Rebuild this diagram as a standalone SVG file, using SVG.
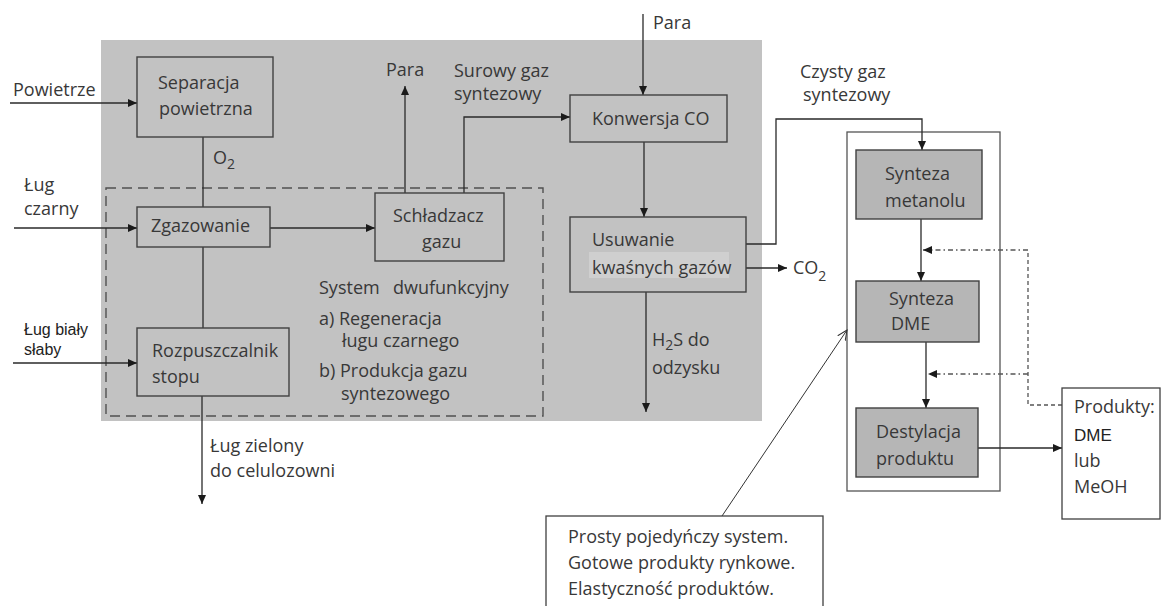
<svg xmlns="http://www.w3.org/2000/svg" width="1161" height="606" viewBox="0 0 1161 606">
<defs>
<marker id="arr" markerUnits="userSpaceOnUse" markerWidth="10" markerHeight="9" refX="9" refY="4.5" orient="auto">
<path d="M0,0.5 L9,4.5 L0,8.5 z" fill="#1a1a1a"/>
</marker>
<marker id="open" markerUnits="userSpaceOnUse" markerWidth="12" markerHeight="12" refX="10" refY="6" orient="auto">
<path d="M0,1.5 L10,6 L0,10.5" fill="none" stroke="#333" stroke-width="1"/>
</marker>
<style>
text{font-family:"Open Sans","DejaVu Sans",sans-serif;font-size:18px;fill:#383838}
.ar{font-family:"Liberation Sans",Arial,sans-serif;font-size:16px;fill:#222}
.box{fill:#c2c2c2;stroke:#404040;stroke-width:1.4}
.rbox{fill:#b6b6b6;stroke:#404040;stroke-width:1.4}
.wbox{fill:#ffffff;stroke:#404040;stroke-width:1.3}
.ln{fill:none;stroke:#2a2a2a;stroke-width:1.3}
.a{marker-end:url(#arr)}
.dd{fill:none;stroke:#555;stroke-width:1.3;stroke-dasharray:5 3 1.5 3}
.ds{fill:none;stroke:#555;stroke-width:1.3;stroke-dasharray:4 3}
.sub{font-size:14px}
</style>
</defs>
<rect id="background" x="101" y="40" width="661" height="381" fill="#c2c2c2"/>
<rect id="dual-system" x="106" y="188" width="437" height="228" fill="none" stroke="#505050" stroke-width="1.4" stroke-dasharray="10 6"/>
<rect id="outer-synthesis" x="847" y="132" width="153" height="359" fill="#ffffff" stroke="#555" stroke-width="1.3"/>

<g id="connectors">
<path class="ln a" d="M10,103 H137"/>
<path class="ln" d="M203,137 V207"/>
<path class="ln a" d="M14,228 H137"/>
<path class="ln a" d="M270,228 H375"/>
<path class="ln" d="M203,247 V328"/>
<path class="ln a" d="M13,363 H137"/>
<path class="ln a" d="M202,396 V504"/>
<path class="ln a" d="M405,193 V86"/>
<path class="ln a" d="M464,193 V117 H570"/>
<path class="ln a" d="M643,14 V95"/>
<path class="ln a" d="M644,142 V217"/>
<path class="ln a" d="M746,244 H776 V119 H922 V150"/>
<path class="ln a" d="M746,268 H787"/>
<path class="ln a" d="M646,292 V412"/>
<path class="ln a" d="M921,219 V281"/>
<path class="ln a" d="M926,342 V408"/>
<path class="ln a" d="M978,448 H1062"/>
<path class="ds" d="M1062,405 H1028 V250"/>
<path class="dd a" d="M1028,250 H923"/>
<path class="dd a" d="M1028,374 H928"/>
<path fill="none" stroke="#333" stroke-width="1" marker-end="url(#open)" d="M722,516 L847,330"/>
</g>

<g id="powietrze-label"><text x="13" y="96">Powietrze</text></g>
<g id="separacja">
<rect class="box" x="137" y="57" width="136" height="80"/>
<text x="158" y="89">Separacja</text>
<text x="159" y="115">powietrzna</text>
</g>
<g id="o2-label"><text x="213" y="164">O<tspan class="sub" dy="5">2</tspan></text></g>
<g id="lug-czarny-label"><text x="24" y="191">Ług</text><text x="24" y="215">czarny</text></g>
<g id="zgazowanie">
<rect class="box" x="137" y="207" width="133" height="40"/>
<text x="151" y="232">Zgazowanie</text>
</g>
<g id="lug-bialy-label"><text class="ar" x="24" y="335">Ług biały</text><text class="ar" x="24" y="355">słaby</text></g>
<g id="rozpuszczalnik">
<rect class="box" x="137" y="328" width="152" height="68"/>
<text x="152" y="357">Rozpuszczalnik</text>
<text x="152" y="383">stopu</text>
</g>
<g id="lug-zielony-label"><text x="210" y="452">Ług zielony</text><text x="210" y="477">do celulozowni</text></g>
<g id="schladzacz">
<rect class="box" x="375" y="193" width="129" height="68"/>
<text x="393" y="222">Schładzacz</text>
<text x="422" y="248">gazu</text>
</g>
<g id="para-left-label"><text x="386" y="76">Para</text></g>
<g id="surowy-label"><text x="454" y="77">Surowy gaz</text><text x="454" y="100">syntezowy</text></g>
<g id="system-label">
<text x="319" y="294">System<tspan x="393">dwufunkcyjny</tspan></text>
<text x="319" y="325">a) Regeneracja</text>
<text x="342" y="347">ługu czarnego</text>
<text x="319" y="377">b) Produkcja gazu</text>
<text x="341" y="400">syntezowego</text>
</g>
<g id="para-top-label"><text x="653" y="29">Para</text></g>
<g id="konwersja">
<rect class="box" x="570" y="95" width="157" height="47"/>
<text x="592" y="125">Konwersja CO</text>
</g>
<g id="usuwanie">
<rect class="box" x="570" y="217" width="176" height="75"/>
<rect x="589" y="252" width="140" height="26" fill="#cfcfcf"/>
<text x="592" y="246">Usuwanie</text>
<text x="592" y="274">kwaśnych gazów</text>
</g>
<g id="co2-label"><text x="793" y="274">CO<tspan class="sub" dy="7">2</tspan></text></g>
<g id="h2s-label"><text x="652" y="346">H<tspan class="sub" dy="4">2</tspan><tspan dy="-4">S do</tspan></text><text x="652" y="374">odzysku</text></g>
<g id="czysty-label"><text x="800" y="78">Czysty gaz</text><text x="803" y="101">syntezowy</text></g>
<g id="synteza-metanolu">
<rect class="rbox" x="856" y="150" width="126" height="69"/>
<text x="885" y="180">Synteza</text>
<text x="885" y="207">metanolu</text>
</g>
<g id="synteza-dme">
<rect class="rbox" x="856" y="281" width="123" height="61"/>
<text x="889" y="305">Synteza</text>
<text x="891" y="330">DME</text>
</g>
<g id="destylacja">
<rect class="rbox" x="856" y="408" width="122" height="69"/>
<text x="876" y="438">Destylacja</text>
<text x="876" y="465">produktu</text>
</g>
<g id="produkty">
<rect class="wbox" x="1062" y="388" width="98" height="131"/>
<text x="1074" y="413">Produkty:</text>
<text class="ar" x="1074" y="441" style="font-size:17px">DME</text>
<text x="1074" y="467">lub</text>
<text x="1074" y="493">MeOH</text>
</g>
<g id="prosty-note">
<rect class="wbox" x="546" y="516" width="277" height="100"/>
<text x="568" y="543">Prosty pojedyńczy system.</text>
<text x="568" y="569">Gotowe produkty rynkowe.</text>
<text x="568" y="595">Elastyczność produktów.</text>
</g>
</svg>
